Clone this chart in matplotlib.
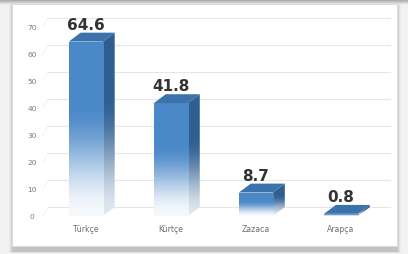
import numpy as np
import matplotlib
matplotlib.use("Agg")
import matplotlib.pyplot as plt
from matplotlib.patches import Rectangle, Polygon
from matplotlib.colors import to_rgb

categories = ["Türkçe", "Kürtçe", "Zazaca", "Arapça"]
values = [64.6, 41.8, 8.7, 0.8]
label_texts = ["64.6", "41.8", "8.7", "0.8"]
yticks = [0, 10, 20, 30, 40, 50, 60, 70]

W, H = 408, 255
fig = plt.figure(figsize=(W / 100, H / 100), dpi=100)
fig.patch.set_facecolor("#f2f2f2")

# card frame with shadow
bg = fig.add_axes([0, 0, 1, 1])
bg.set_xlim(0, W); bg.set_ylim(H, 0); bg.axis("off")
top_band = np.linspace(0.62, 0.93, 6)[:, None] * np.ones((6, 2))
bg.imshow(top_band, cmap="gray", vmin=0, vmax=1, extent=[0, W, 6, 0], aspect="auto", zorder=0)
for i, a in enumerate([0.06, 0.09, 0.13, 0.2]):
    bg.add_patch(Rectangle((12 - 3 + i, 5 + i * 0.5), 386 + 6 - 2 * i, 244 + 5 - i,
                           facecolor="#808080", alpha=a, edgecolor="none", zorder=1))
bg.add_patch(Rectangle((12, 5), 385, 242, facecolor="white", edgecolor="#d8d8d8", lw=0.6, zorder=2))

ax = fig.add_axes([39 / W, 38 / H, 353 / W, 202.5 / H])
ax.set_xlim(-0.55, 3.6)
ax.set_ylim(0, 75)
ax.patch.set_alpha(0)
for s in ax.spines.values():
    s.set_visible(False)
ax.set_xticks([]); ax.set_yticks([])

bw = 0.4           # bar width in category units
ddx = 0.14         # depth offset x
ddy = 3.3          # depth offset y

# back wall gridlines
for v in yticks:
    ax.plot([-0.45, 3.58], [v + ddy, v + ddy], color="#e6e6e6", lw=0.8, zorder=1)
    ax.plot([-0.5, -0.45], [v, v + ddy], color="#f0f0f0", lw=0.6, zorder=1)
    ax.text(-0.63, v, str(v), ha="center", va="center", fontsize=5.4, color="#7a7a7a")

front_col = np.array(to_rgb("#4a88c8"))
side_col = np.array(to_rgb("#2f5f91"))
top_col = np.array(to_rgb("#3b72ab"))
white = np.array([1.0, 1.0, 1.0])

def grad_img(col, fade_to=0.93, span=0.65):
    n = 200
    t = np.linspace(0, 1, n)  # 0 bottom -> 1 top
    s = np.clip(t / span, 0, 1)
    w = s * s * (3 - 2 * s)
    w = 1 - (1 - w) * fade_to
    img = (col[None, :] * w[:, None] + white[None, :] * (1 - w[:, None]))
    return img[::-1][:, None, :]

for i, (c, v) in enumerate(zip(categories, values)):
    x0, x1 = i - bw / 2, i + bw / 2
    # side face
    side = Polygon([(x1, 0), (x1 + ddx, ddy), (x1 + ddx, v + ddy), (x1, v)], closed=True,
                   facecolor="none", edgecolor="none", zorder=3)
    ax.add_patch(side)
    im = ax.imshow(grad_img(side_col, 0.85), extent=[x1, x1 + ddx, 0, v + ddy], aspect="auto",
                   zorder=3, interpolation="bilinear")
    im.set_clip_path(side)
    # front face
    front = Rectangle((x0, 0), bw, v, facecolor="none", edgecolor="none", zorder=4)
    ax.add_patch(front)
    im2 = ax.imshow(grad_img(front_col, 0.95), extent=[x0, x1, 0, v], aspect="auto",
                    zorder=4, interpolation="bilinear")
    im2.set_clip_path(front)
    # top face
    ax.add_patch(Polygon([(x0, v), (x1, v), (x1 + ddx, v + ddy), (x0 + ddx, v + ddy)], closed=True,
                         facecolor=top_col, edgecolor="none", zorder=5))
    ax.text(i + 0.0, v + ddy + 0.4, label_texts[i], ha="center", va="bottom",
            fontsize=11, fontweight="bold", color="#333333", zorder=6)
    ax.text(i, -4.8, c, ha="center", va="center", fontsize=5.6, color="#6e6e6e")

ax.set_xlim(-0.55, 3.6)
ax.set_ylim(0, 75)
fig.savefig("out.png", dpi=100, facecolor=fig.get_facecolor())
